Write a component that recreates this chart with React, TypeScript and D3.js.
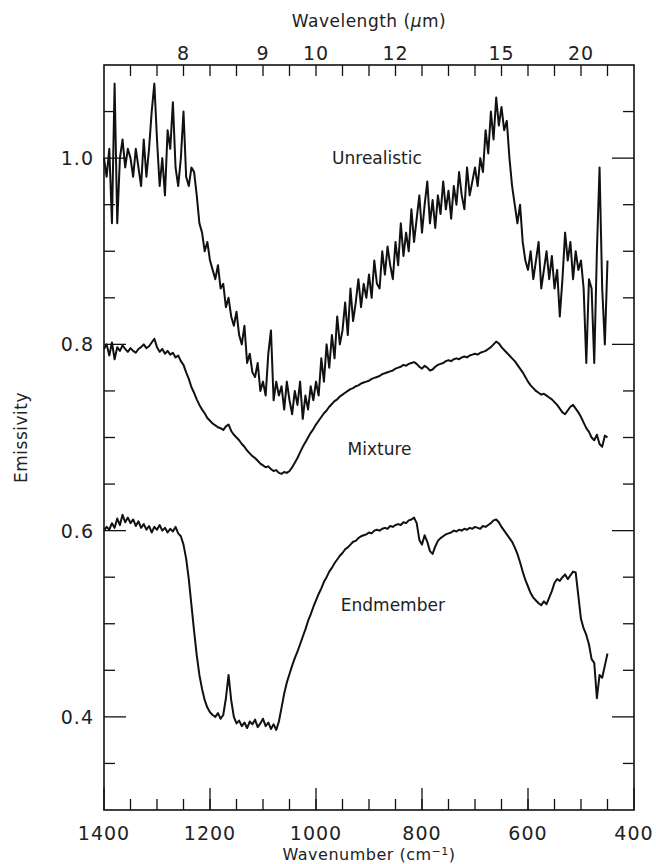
import * as d3 from "d3";

// spectra sampled every 5 cm-1 from 1400 down to 450
const wavenumbers = d3.range(1400, 445, -5);

const endmember = [
  0.600, 0.604, 0.601, 0.608, 0.603, 0.613, 0.606, 0.617, 0.609, 0.614,
  0.608, 0.612, 0.605, 0.610, 0.603, 0.607, 0.601, 0.605, 0.598, 0.604,
  0.601, 0.606, 0.600, 0.603, 0.598, 0.602, 0.599, 0.604, 0.597, 0.594,
  0.585, 0.570, 0.548, 0.520, 0.492, 0.466, 0.445, 0.430, 0.418, 0.410,
  0.405, 0.402, 0.400, 0.404, 0.398, 0.402, 0.420, 0.445, 0.418, 0.400,
  0.393, 0.396, 0.390, 0.394, 0.388, 0.395, 0.392, 0.397, 0.389, 0.393,
  0.398, 0.390, 0.394, 0.387, 0.392, 0.386, 0.395, 0.410, 0.425, 0.437,
  0.446, 0.455, 0.463, 0.470, 0.478, 0.486, 0.494, 0.503, 0.510, 0.518,
  0.525, 0.532, 0.538, 0.545, 0.550, 0.556, 0.560, 0.565, 0.569, 0.573,
  0.576, 0.580, 0.582, 0.585, 0.588, 0.589, 0.592, 0.594, 0.595, 0.596,
  0.598, 0.597, 0.600, 0.601, 0.600, 0.602, 0.603, 0.602, 0.605, 0.604,
  0.606, 0.607, 0.606, 0.609, 0.608, 0.611, 0.612, 0.614, 0.608, 0.590,
  0.585, 0.595, 0.588, 0.578, 0.575, 0.583, 0.589, 0.592, 0.594, 0.596,
  0.597, 0.598, 0.600, 0.599, 0.601, 0.600, 0.602, 0.601, 0.603, 0.602,
  0.604, 0.603, 0.602, 0.605, 0.604, 0.606, 0.608, 0.611, 0.612, 0.609,
  0.604, 0.600, 0.596, 0.592, 0.588, 0.582, 0.575, 0.566, 0.556, 0.547,
  0.540, 0.533, 0.528, 0.525, 0.522, 0.520, 0.524, 0.521, 0.528, 0.535,
  0.544, 0.548, 0.546, 0.550, 0.553, 0.548, 0.552, 0.556, 0.555, 0.530,
  0.505, 0.495, 0.488, 0.478, 0.462, 0.458, 0.420, 0.445, 0.442, 0.455,
  0.468,
];

const mixture = [
  0.795, 0.800, 0.788, 0.802, 0.784, 0.797, 0.793, 0.799, 0.795, 0.792,
  0.796, 0.793, 0.791, 0.795, 0.797, 0.800, 0.796, 0.798, 0.802, 0.806,
  0.797, 0.792, 0.795, 0.790, 0.793, 0.789, 0.791, 0.786, 0.788, 0.782,
  0.778, 0.770, 0.763, 0.754, 0.748, 0.741, 0.735, 0.730, 0.726, 0.721,
  0.718, 0.715, 0.713, 0.711, 0.710, 0.708, 0.712, 0.714, 0.707, 0.703,
  0.700, 0.697, 0.693, 0.690, 0.686, 0.683, 0.680, 0.678, 0.675, 0.672,
  0.670, 0.668, 0.669, 0.666, 0.664, 0.665, 0.662, 0.661, 0.663, 0.662,
  0.664, 0.668, 0.673, 0.678, 0.684, 0.690, 0.695, 0.700, 0.705, 0.709,
  0.714, 0.718, 0.722, 0.726, 0.729, 0.733, 0.736, 0.739, 0.741, 0.744,
  0.746, 0.748, 0.750, 0.752, 0.753, 0.755, 0.756, 0.758, 0.759, 0.760,
  0.761, 0.763, 0.764, 0.765, 0.766, 0.768, 0.769, 0.770, 0.771, 0.772,
  0.774, 0.775, 0.776, 0.778, 0.777, 0.779, 0.780, 0.781, 0.779, 0.776,
  0.774, 0.777, 0.775, 0.772, 0.773, 0.776, 0.778, 0.779, 0.780, 0.782,
  0.783, 0.782, 0.784, 0.785, 0.784, 0.786, 0.787, 0.786, 0.788, 0.789,
  0.790, 0.789, 0.791, 0.792, 0.793, 0.795, 0.797, 0.800, 0.803, 0.801,
  0.797, 0.794, 0.791, 0.788, 0.785, 0.782, 0.778, 0.774, 0.770, 0.765,
  0.760, 0.756, 0.753, 0.750, 0.748, 0.746, 0.747, 0.745, 0.743, 0.741,
  0.738, 0.735, 0.731, 0.727, 0.725, 0.729, 0.733, 0.735, 0.731, 0.727,
  0.722, 0.716, 0.710, 0.706, 0.700, 0.697, 0.703, 0.693, 0.690, 0.702,
  0.700,
];

const unrealistic = [
  1.00, 0.98, 1.01, 0.93, 1.08, 0.93, 1.00, 1.02, 0.99, 1.01,
  1.00, 0.98, 1.01, 0.99, 0.97, 1.02, 0.98, 1.01, 1.05, 1.08,
  1.02, 0.97, 1.00, 0.96, 1.03, 1.01, 1.06, 0.99, 0.97, 1.00,
  1.05, 0.98, 0.97, 0.99, 0.985, 0.96, 0.93, 0.92, 0.90, 0.91,
  0.89, 0.88, 0.87, 0.885, 0.86, 0.865, 0.84, 0.85, 0.83, 0.82,
  0.835, 0.81, 0.80, 0.82, 0.78, 0.79, 0.77, 0.765, 0.78, 0.75,
  0.76, 0.745, 0.79, 0.815, 0.74, 0.76, 0.745, 0.755, 0.73, 0.76,
  0.74, 0.725, 0.75, 0.735, 0.76, 0.72, 0.745, 0.73, 0.755, 0.74,
  0.76, 0.745, 0.785, 0.76, 0.80, 0.775, 0.81, 0.785, 0.83, 0.80,
  0.815, 0.845, 0.81, 0.86, 0.825, 0.845, 0.87, 0.84, 0.865, 0.85,
  0.875, 0.85, 0.89, 0.865, 0.86, 0.90, 0.875, 0.905, 0.885, 0.87,
  0.91, 0.885, 0.93, 0.895, 0.92, 0.90, 0.945, 0.91, 0.935, 0.96,
  0.92, 0.95, 0.975, 0.93, 0.955, 0.925, 0.96, 0.94, 0.975, 0.945,
  0.965, 0.935, 0.97, 0.95, 0.985, 0.96, 0.945, 0.99, 0.96, 0.975,
  0.99, 0.97, 1.00, 0.985, 1.03, 1.005, 1.05, 1.02, 1.065, 1.035,
  1.055, 1.03, 1.04, 1.00, 0.97, 0.95, 0.93, 0.95, 0.91, 0.89,
  0.88, 0.90, 0.87, 0.89, 0.91, 0.86, 0.88, 0.90, 0.87, 0.895,
  0.86, 0.88, 0.83, 0.87, 0.92, 0.89, 0.91, 0.87, 0.90, 0.88,
  0.89, 0.86, 0.78, 0.87, 0.86, 0.78, 0.90, 0.99, 0.86, 0.80,
  0.89,
];

const curveLabels = ["Unrealistic", "Mixture", "Endmember"];
const labelX = [885, 880, 855];
const labelY = [1.0, 0.688, 0.52];

const bottomTicks = [1400, 1200, 1000, 800, 600, 400];
const minorXTicks = d3.range(1350, 400, -50);
const leftTicks = [0.4, 0.6, 0.8, 1.0];
const minorYTicks = [0.35, 0.45, 0.5, 0.55, 0.65, 0.7, 0.75, 0.85, 0.9, 0.95, 1.05];
const topTickValues = [1250, 1100, 1000, 850, 650, 500];
const topTickLabels = ["8", "9", "10", "12", "15", "20"];

const W = 656;
const H = 864;
const left = 104;
const right = 634;
const top = 65;
const bottom = 810;
const font = "'DejaVu Sans', sans-serif";

export default function App() {
  const x = d3.scaleLinear().domain([1400, 400]).range([left, right]);
  const y = d3.scaleLinear().domain([0.3, 1.1]).range([bottom, top]);

  const line = d3
    .line<number>()
    .x((_, i) => x(wavenumbers[i]))
    .y((d) => y(d));

  const series = [unrealistic, mixture, endmember];
  const major = 22;
  const minor = 11;

  return (
    <div style={{ position: "absolute", left: 0, top: 0 }}>
      <svg width={W} height={H} style={{ display: "block", background: "#fff" }}>
        {/* curves */}
        {series.map((s, k) => (
          <path
            key={k}
            d={line(s) || ""}
            fill="none"
            stroke="#111"
            strokeWidth={2}
            strokeLinejoin="round"
          />
        ))}

        {/* frame */}
        <rect
          x={left}
          y={top}
          width={right - left}
          height={bottom - top}
          fill="none"
          stroke="#111"
          strokeWidth={1.6}
        />

        {/* bottom ticks */}
        {bottomTicks.map((t) => (
          <line key={"b" + t} x1={x(t)} x2={x(t)} y1={bottom} y2={bottom - major} stroke="#111" strokeWidth={1.3} />
        ))}
        {minorXTicks.map((t) => (
          <line key={"bm" + t} x1={x(t)} x2={x(t)} y1={bottom} y2={bottom - minor} stroke="#111" strokeWidth={1.3} />
        ))}
        {/* top ticks */}
        {minorXTicks.map((t) => (
          <line key={"t" + t} x1={x(t)} x2={x(t)} y1={top} y2={top + minor} stroke="#111" strokeWidth={1.3} />
        ))}
        {/* left / right ticks */}
        {leftTicks.map((t) => (
          <g key={"l" + t}>
            <line x1={left} x2={left + major} y1={y(t)} y2={y(t)} stroke="#111" strokeWidth={1.3} />
            <line x1={right} x2={right - major} y1={y(t)} y2={y(t)} stroke="#111" strokeWidth={1.3} />
          </g>
        ))}
        {minorYTicks.map((t) => (
          <g key={"lm" + t}>
            <line x1={left} x2={left + minor} y1={y(t)} y2={y(t)} stroke="#111" strokeWidth={1.3} />
            <line x1={right} x2={right - minor} y1={y(t)} y2={y(t)} stroke="#111" strokeWidth={1.3} />
          </g>
        ))}

        {/* tick labels */}
        <g fontFamily={font} fontSize={19} letterSpacing={1} fill="#222">
          {bottomTicks.map((t) => (
            <text key={"bl" + t} x={x(t)} y={bottom + 30} textAnchor="middle">
              {t}
            </text>
          ))}
          {leftTicks.map((t) => (
            <text key={"ll" + t} x={left - 10} y={y(t) + 7} textAnchor="end">
              {d3.format(".1f")(t)}
            </text>
          ))}
          {topTickValues.map((t, i) => (
            <text key={"tl" + t} x={x(t)} y={top - 5} textAnchor="middle">
              {topTickLabels[i]}
            </text>
          ))}
        </g>

        {/* axis titles */}
        <g fontFamily={font} fontSize={17} letterSpacing={0.5} fill="#222">
          <text x={(left + right) / 2} y={27} textAnchor="middle">
            Wavelength (<tspan fontStyle="italic">μ</tspan>m)
          </text>
          <text x={(left + right) / 2} y={860} fontSize={16} textAnchor="middle">
            Wavenumber (cm
            <tspan dy={-5} fontSize={11}>−1</tspan>
            <tspan dy={5}>)</tspan>
          </text>
          <text transform={`translate(27,${(top + bottom) / 2}) rotate(-90)`} textAnchor="middle">
            Emissivity
          </text>
        </g>

        {/* curve labels */}
        <g fontFamily={font} fontSize={17} fill="#222">
          {curveLabels.map((c, i) => (
            <text key={c} x={x(labelX[i])} y={y(labelY[i]) + 6} textAnchor="middle">
              {c}
            </text>
          ))}
        </g>
      </svg>
    </div>
  );
}
